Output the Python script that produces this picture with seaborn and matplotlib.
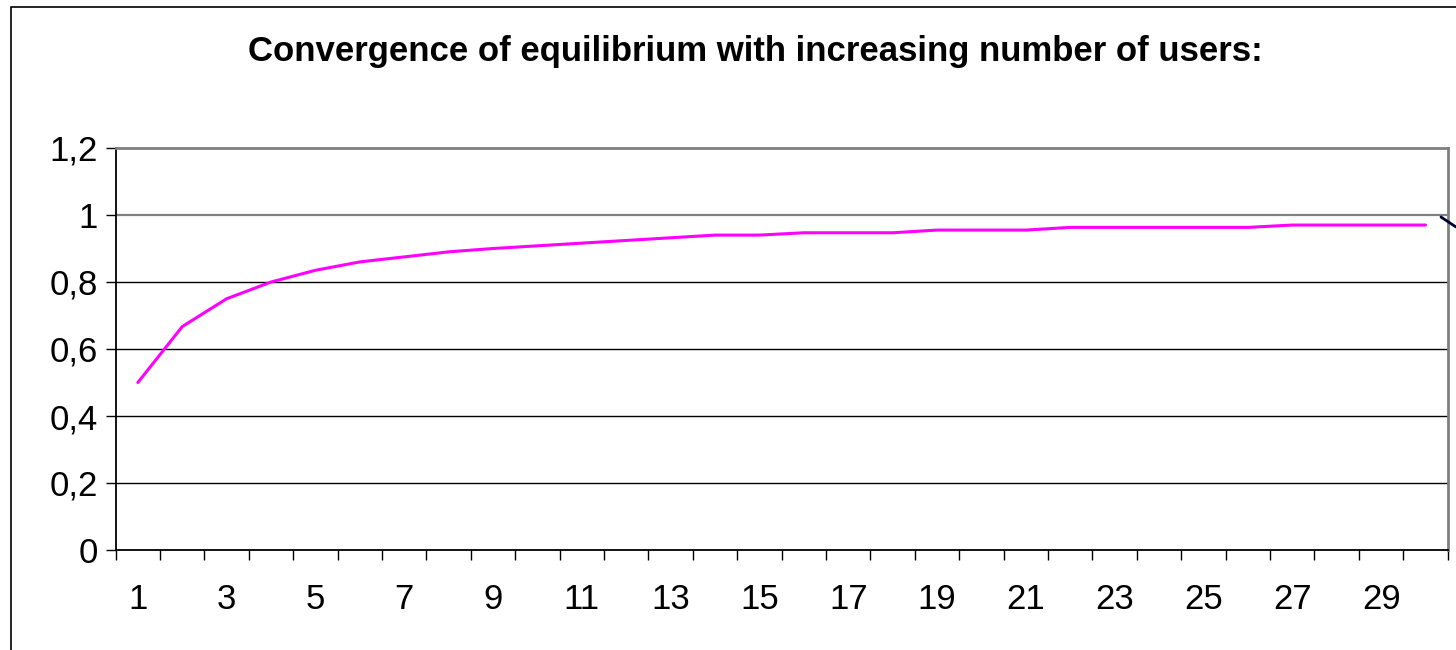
import matplotlib
matplotlib.use("Agg")
import matplotlib.pyplot as plt
from matplotlib.lines import Line2D
from matplotlib.patches import Rectangle
import numpy as np
import pandas as pd
import seaborn as sns

# Number of users and the resulting equilibrium ratio
users = list(range(1, 31))
equilibrium = [0.50, 0.667, 0.75, 0.80, 0.835, 0.86, 0.875, 0.89, 0.90, 0.908,
               0.916, 0.924, 0.932, 0.940, 0.940, 0.947, 0.947, 0.947, 0.955, 0.955,
               0.955, 0.963, 0.963, 0.963, 0.963, 0.963, 0.970, 0.970, 0.970, 0.970]
y_ticks = [0, 0.2, 0.4, 0.6, 0.8, 1.0, 1.2]
y_tick_labels = ["0", "0,2", "0,4", "0,6", "0,8", "1", "1,2"]
x_tick_labels = [str(u) for u in users if u % 2 == 1]

title = "Convergence of equilibrium with increasing number of users:"

sns.set_theme(style="white")
plt.rcParams["font.family"] = ["Liberation Sans", "DejaVu Sans"]
plt.rcParams["text.color"] = "black"
plt.rcParams["xtick.color"] = "black"
plt.rcParams["ytick.color"] = "black"
plt.rcParams["xtick.labelcolor"] = "black"
plt.rcParams["ytick.labelcolor"] = "black"

df = pd.DataFrame({"users": users, "equilibrium": equilibrium})

fig = plt.figure(figsize=(14.56, 6.5), dpi=100)
ax = fig.add_axes([115.7 / 1456, 1 - 550 / 650, (1447.7 - 115.7) / 1456, (550 - 148) / 650])

sns.lineplot(data=df, x="users", y="equilibrium", ax=ax, color="#FF00FF",
             linewidth=2.2, zorder=3)

ax.set_xlim(0.5, 30.5)
ax.set_ylim(0, 1.2)
ax.set_xlabel("")
ax.set_ylabel("")

# y axis
ax.set_yticks(y_ticks)
ax.set_yticklabels(y_tick_labels)
ax.tick_params(axis="y", which="major", direction="out", length=7, width=1,
               color="black", labelcolor="black", pad=6, labelsize=25, left=True)

# x axis: labels at category centres, tick marks at category boundaries
ax.set_xticks([u for u in users if u % 2 == 1])
ax.set_xticklabels(x_tick_labels)
ax.set_xticks(np.arange(0.5, 31, 1.0), minor=True)
ax.tick_params(axis="x", which="major", length=0, pad=24, labelsize=25,
               labelcolor="black")
ax.tick_params(axis="x", which="minor", direction="out", length=7, width=1,
               color="black", bottom=True)

# horizontal gridlines
for yv in y_ticks[1:-1]:
    col = "#808080" if yv == 1.0 else "black"
    lw = 1.6 if yv == 1.0 else 1.0
    ax.axhline(yv, color=col, linewidth=lw, zorder=1)

for side in ["left", "bottom"]:
    ax.spines[side].set_color("black")
    ax.spines[side].set_linewidth(1.3)
for side in ["top", "right"]:
    ax.spines[side].set_color("#808080")
    ax.spines[side].set_linewidth(2)
    ax.spines[side].set_visible(True)

# outer chart frame
fig.patches.append(Rectangle((11 / 1456, -0.1), 1.2, 1 - 6.5 / 650 + 0.1,
                             transform=fig.transFigure, fill=False,
                             edgecolor="black", linewidth=1.2, zorder=0))

# connector stub at the right edge
fig.lines.append(Line2D([1441 / 1456, 1456 / 1456], [1 - 217 / 650, 1 - 227 / 650],
                        transform=fig.transFigure, color="#000033", linewidth=2))

fig.text(755 / 1456, 1 - 51 / 650, title, ha="center", va="center",
         fontsize=25, fontweight="bold", color="black")

fig.savefig("out.png", dpi=100, facecolor="white")
